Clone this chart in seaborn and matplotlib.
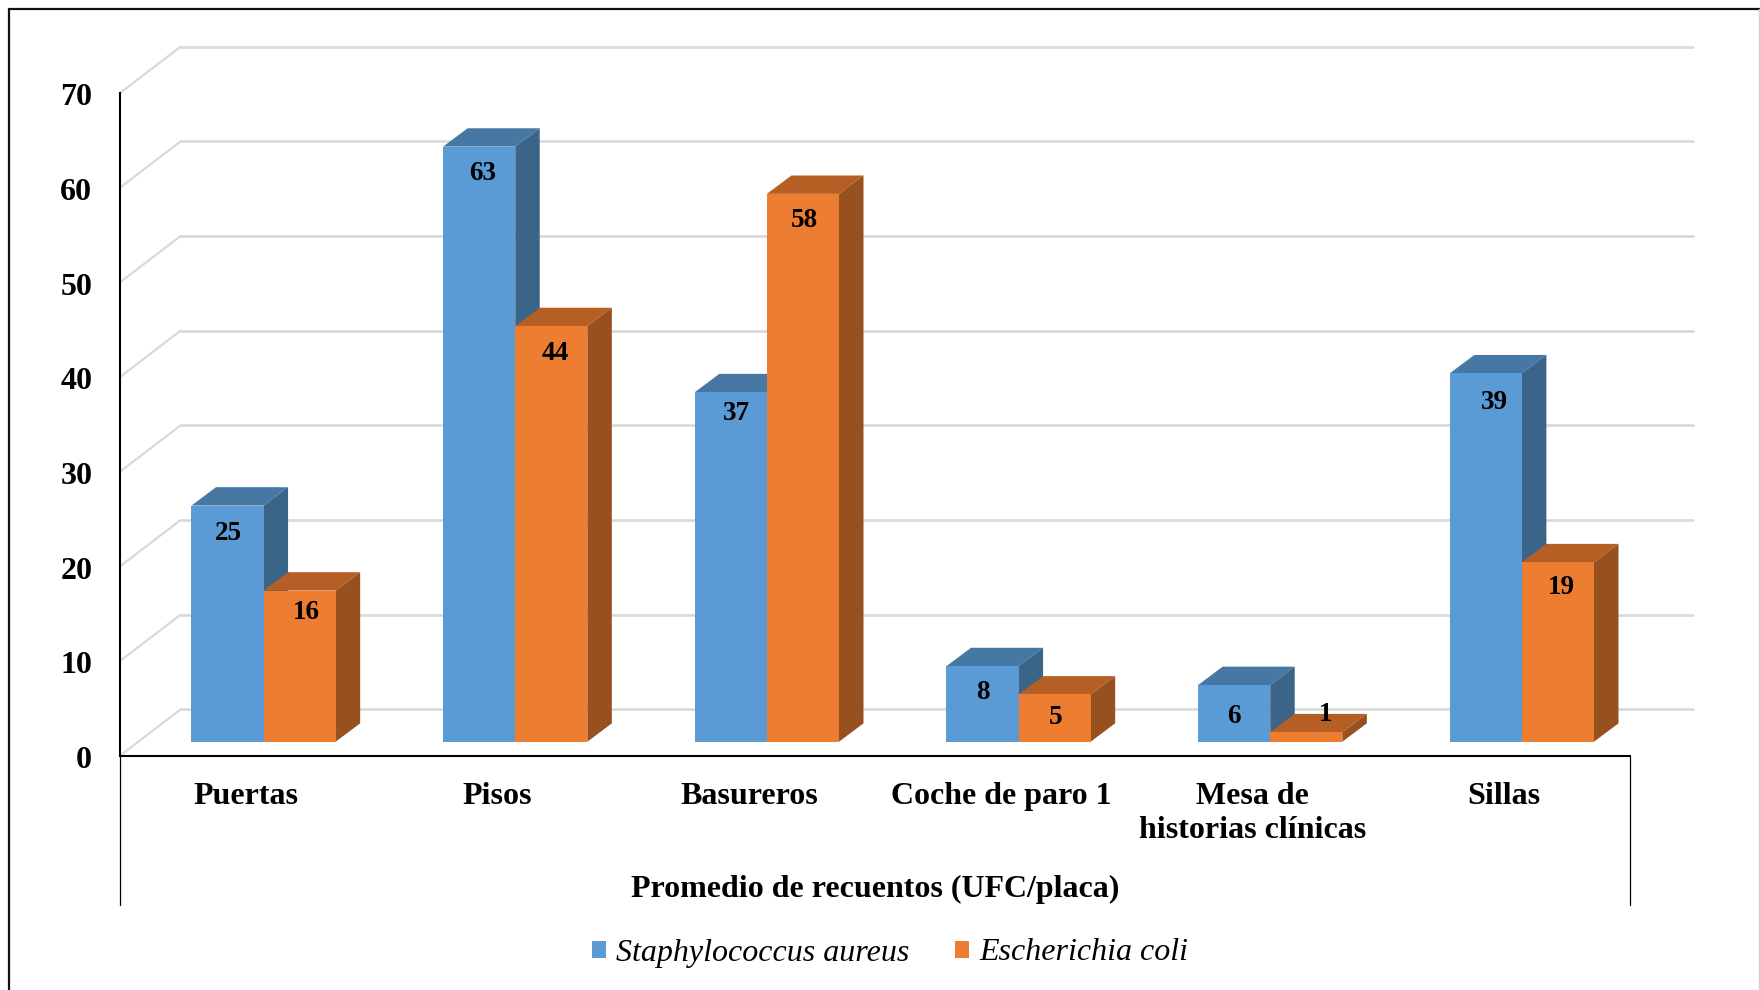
import pandas as pd
import seaborn as sns
import matplotlib.pyplot as plt

from matplotlib.lines import Line2D
from matplotlib.font_manager import FontProperties
from matplotlib.transforms import ScaledTranslation

categories = ["Puertas", "Pisos", "Basureros", "Coche de paro 1", "Mesa de\nhistorias clínicas", "Sillas"]
s_aureus = [25, 63, 37, 8, 6, 39]
e_coli = [16, 44, 58, 5, 1, 19]
series_names = ["Staphylococcus aureus", "Escherichia coli"]
y_ticks = [0, 10, 20, 30, 40, 50, 60, 70]
x_title = "Promedio de recuentos (UFC/placa)"

W, H = 1760, 990
UNIT_X = 1510 / 6
UNIT_Y = 662.7 / 70

sns.set_theme(style="white")
plt.rcParams["font.family"] = ["Liberation Serif", "DejaVu Serif"]

front_colors = ["#5B9BD5", "#ED7D31"]
top_colors = ["#4777A3", "#B55F24"]
side_colors = ["#3B6489", "#97511E"]
grid_color = "#D9D9D9"

# nudges for the value labels, pixels from the bar top centre
nudge_x = [[1, 3, 6, 0, 0, 9], [7, 4, 1, 1, 19, 3]]
nudge_y = [[-28, -27, -21, -26, -31, -29], [-22, -27, -27, -23, 18, -25]]


def px_axes(fig, left, right, top, bottom):
    return fig.add_axes([left / W, 1 - bottom / H, (right - left) / W, (bottom - top) / H])


fig = plt.figure(figsize=(W / 100, H / 100), dpi=100, facecolor="white")

# front frame of the chart, with the real ticks
frame = px_axes(fig, 120, 1630, 93, 755.7)
frame.set_xlim(-0.5, 5.5)
frame.set_ylim(0, 70)
frame.set_xticks(range(len(categories)))
frame.set_xticklabels(categories, linespacing=1.24)
frame.set_yticks(y_ticks)
frame.tick_params(axis="x", length=0, pad=18.8, labelsize=23)
frame.tick_params(axis="y", length=0, pad=20, labelsize=23)
plt.setp(frame.get_xticklabels() + frame.get_yticklabels(), fontweight="bold", color="black")
plt.setp(frame.get_yticklabels(), va="center_baseline")
for label in frame.get_yticklabels():
    label.set_transform(label.get_transform() + ScaledTranslation(0, -1.3 / 100, fig.dpi_scale_trans))
sns.despine(ax=frame)
for side in ["left", "bottom"]:
    frame.spines[side].set_color("black")
    frame.spines[side].set_linewidth(1.5)

# back wall gridlines and the diagonals that lead to them
wall_dx = 60.7 / UNIT_X
wall_dy = 46.4 / UNIT_Y
wall_end = (1692.7 - 120) / UNIT_X - 0.5
for v in y_ticks:
    frame.plot([-0.5, -0.5 + wall_dx], [v, v + wall_dy], color=grid_color, lw=1.6, clip_on=False, zorder=1)
    frame.plot([-0.5 + wall_dx, wall_end], [v + wall_dy, v + wall_dy], color=grid_color, lw=1.9, clip_on=False, zorder=1)

# thin lines that close the category band below the axis
band_bottom = -149.3 / UNIT_Y
frame.plot([-0.5, -0.5], [0, band_bottom], color="black", lw=0.9, clip_on=False)
frame.plot([5.5, 5.5], [0, band_bottom], color="black", lw=0.9, clip_on=False)
frame.text(2.5, -133.5 / UNIT_Y, x_title, ha="center", va="center", fontsize=23, fontweight="bold", color="black")

# bars sit on their own plane, a little behind the frame
bars = px_axes(fig, 137.73, 1647.73, 80.5, 741.7)
bars.patch.set_alpha(0)

df = pd.DataFrame({
    "categoria": categories * 2,
    "valor": s_aureus + e_coli,
    "serie": [series_names[0]] * len(categories) + [series_names[1]] * len(categories),
})
sns.barplot(data=df, x="categoria", y="valor", hue="serie", order=categories, hue_order=series_names,
            palette=front_colors, saturation=1, width=0.573, gap=0, legend=False, ax=bars, zorder=3)
bars.set_xlim(-0.5, 5.5)
bars.set_ylim(0, 70)
bars.axis("off")

depth_x = 24.5 / UNIT_X
depth_y = 18.4 / UNIT_Y
for s, container in enumerate(bars.containers):
    for i, patch in enumerate(container):
        patch.set_linewidth(0)
        x0 = patch.get_x()
        x1 = x0 + patch.get_width()
        h = patch.get_height()
        bars.fill([x0, x1, x1 + depth_x, x0 + depth_x], [h, h, h + depth_y, h + depth_y],
                  color=top_colors[s], lw=0, zorder=1 + s, clip_on=False)
        bars.fill([x1, x1 + depth_x, x1 + depth_x, x1], [0, depth_y, h + depth_y, h],
                  color=side_colors[s], lw=0, zorder=1 + s, clip_on=False)
        bars.annotate(f"{h:.0f}", (x0 + patch.get_width() / 2, h),
                      xytext=(nudge_x[s][i], nudge_y[s][i]), textcoords="offset pixels",
                      ha="center", va="center", fontsize=19.5, fontweight="bold", color="black",
                      zorder=5, annotation_clip=False)

bars.legend(
    [c[0] for c in bars.containers], series_names,
    loc="center", bbox_to_anchor=(890 / W, 1 - 953 / H), bbox_transform=fig.transFigure,
    ncol=2, frameon=False, prop=FontProperties(family="Liberation Serif", style="italic", size=23),
    handlelength=0.44, handleheight=0.44, handletextpad=0.3, columnspacing=1.45, labelcolor="black",
)

# outer border of the picture
fig.add_artist(Line2D([8.5 / W, 1], [1 - 9 / H, 1 - 9 / H], color="#111111", lw=1.6))
fig.add_artist(Line2D([8.5 / W, 8.5 / W], [0, 1 - 9 / H], color="#111111", lw=1.6))
fig.add_artist(Line2D([1759.3 / W, 1759.3 / W], [0, 1 - 9 / H], color="#D0D0D0", lw=1))

fig.savefig("out.png", dpi=100, facecolor="white")
